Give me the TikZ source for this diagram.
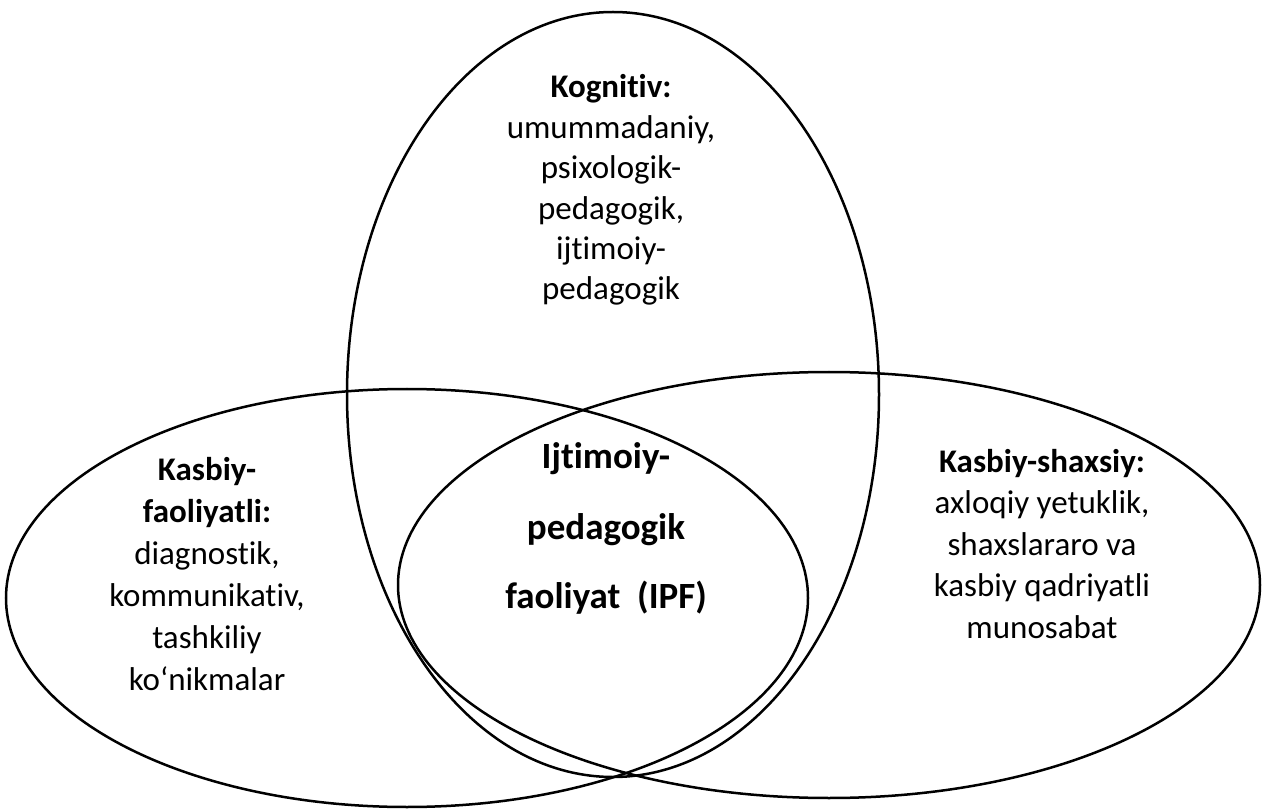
\documentclass[tikz,border=0pt]{standalone}
\usepackage{fontspec}
\setmainfont{Carlito}[Ligatures=NoCommon]
\tikzset{
  ring/.style={draw=black, line width=2.5pt},
  txt/.style={anchor=base, inner sep=0pt, font=\fontsize{33}{41}\selectfont},
  hd/.style={txt, font=\fontsize{33}{41}\selectfont\bfseries},
  core/.style={anchor=base, inner sep=0pt, font=\fontsize{37}{45}\selectfont\bfseries}
}
\begin{document}
\begin{tikzpicture}[x=1pt,y=-1pt]
\useasboundingbox (0,0) rectangle (1262,810);
% circles
\draw[ring] (613,394.5) ellipse [x radius=266, y radius=382.5];
\draw[ring] (407,598) ellipse [x radius=401, y radius=209];
\draw[ring] (829,585) ellipse [x radius=431, y radius=213];
% top block
\node[hd]  (k0) at (611,98)    {Kognitiv:};
\node[txt] (k1) at (611,138.4) {umummadaniy,};
\node[txt] (k2) at (611,178.8) {psixologik-};
\node[txt] (k3) at (611,219.2) {pedagogik,};
\node[txt] (k4) at (611,259.6) {ijtimoiy-};
\node[txt] (k5) at (611,300)   {pedagogik};
% left block
\node[hd]  (l0) at (207,480) {Kasbiy-};
\node[hd]  (l1) at (207,522) {faoliyatli:};
\node[txt] (l2) at (207,564) {diagnostik,};
\node[txt] (l3) at (207,606) {kommunikativ,};
\node[txt] (l4) at (207,648) {tashkiliy};
\node[txt] (l5) at (207,690) {ko‘nikmalar};
% right block
\node[hd]  (r0) at (1042,472)   {Kasbiy-shaxsiy:};
\node[txt] (r1) at (1042,513.5) {axloqiy yetuklik,};
\node[txt] (r2) at (1042,555)   {shaxslararo va};
\node[txt] (r3) at (1042,596.5) {kasbiy qadriyatli};
\node[txt] (r4) at (1042,638)   {munosabat};
% centre
\node[core] (c0) at (606,468) {Ijtimoiy-};
\node[core] (c1) at (606,539) {pedagogik};
\node[core] (c2) at (606,608) {faoliyat\ \ (IPF)};
\end{tikzpicture}
\end{document}
